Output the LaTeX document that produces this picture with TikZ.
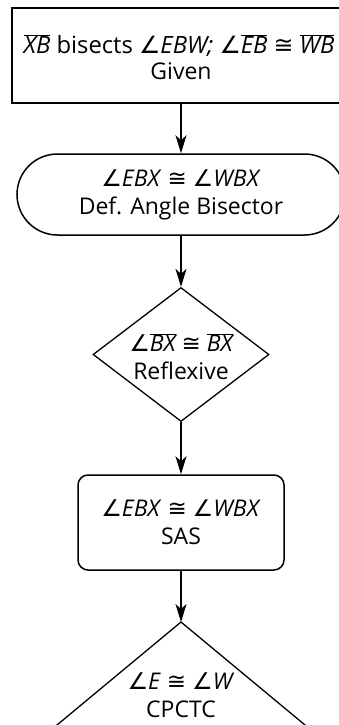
\documentclass[tikz,border=0pt]{standalone}
\usepackage{fontspec}
\usepackage{graphicx}
\setmainfont{Open Sans}
\newfontfamily\symf{DejaVu Sans}
\usetikzlibrary{arrows.meta,shapes.misc,shapes.geometric}
\newcommand\angl{{\symf\itshape ∠}}
\newcommand\cng{{\symf ≅}}
\newcommand\ovl[1]{$\overline{\mbox{\itshape #1}}$}
\begin{document}
\begin{tikzpicture}[x=1pt,y=-1pt,
  shapebox/.style={draw, line width=1.5pt, inner sep=0pt},
  txt/.style={align=center, font=\fontsize{23}{28}\selectfont, inner sep=0pt},
  arr/.style={-{Stealth[length=18pt,width=11pt,inset=5pt]}, line width=1.6pt}]
\useasboundingbox (0,0) rectangle (339,725);
\clip (0,0) rectangle (339,725);
% shapes
\node[inner sep=0pt, minimum width=350pt, minimum height=95pt, anchor=north west] (given) at (12,8) {};
\draw[line width=1.9pt] (given.north east) -- (given.north west) -- (given.south west) -- (given.south east);
\node[shapebox, rounded rectangle, minimum width=328pt, minimum height=81pt] (bis) at (181,194.5) {};
\node[shapebox, diamond, line width=1.3pt, aspect=1.313, minimum width=176pt, minimum height=134pt] (refl) at (181,354.5) {};
\node[shapebox, rounded corners=10pt, minimum width=206pt, minimum height=95pt] (sas) at (181,522.5) {};
\coordinate (apex) at (181,622);
\coordinate (tl) at (31,746.6);
\coordinate (tr) at (331,746.6);
\draw[line width=1.3pt] (tl) -- (apex) -- (tr);
% texts
\node[txt] (givent) at (179,46) {\fontsize{23.8}{28}\selectfont\ovl{XB} bisects \textit{\angl EBW;} \angl\ovl{EB} \cng\ \ovl{WB}};
\node[txt, anchor=base] (givenl) at (181,79) {Given};
\node[txt] (bist) at (181,195) {\textit{\angl EBX} \cng\ \textit{\angl WBX}\\ Def. Angle Bisector};
\node[txt] (reflt) at (181,356.5) {\angl\ovl{BX} \cng\ \ovl{BX}\\ Reflexive};
\node[txt] (sast) at (181,522.5) {\textit{\angl EBX} \cng\ \textit{\angl WBX}\\ SAS};
\node[txt] (cpt) at (181,695) {\textit{\angl E} \cng\ \textit{\angl W}\\ CPCTC};
% connectors
\draw[arr] (bis.north |- given.south) -- (bis.north);
\draw[arr] (bis.south) -- (refl.north);
\draw[arr] (refl.south) -- (sas.north);
\draw[arr] (sas.south) -- (apex);
\end{tikzpicture}
\end{document}
